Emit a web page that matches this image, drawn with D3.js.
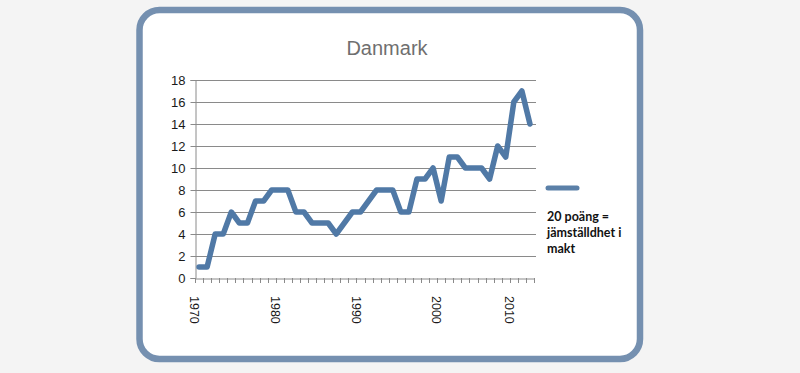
<!DOCTYPE html>
<html>
<head>
<meta charset="utf-8">
<script src="https://cdn.jsdelivr.net/npm/d3@7"></script>
<style>
  html, body { margin: 0; padding: 0; background: #f4f4f4; }
  svg { display: block; }
</style>
</head>
<body>
<svg id="chart" width="800" height="373"></svg>
<script>
// ---- data ----
const years = [1970,1971,1972,1973,1974,1975,1976,1977,1978,1979,
               1980,1981,1982,1983,1984,1985,1986,1987,1988,1989,
               1990,1991,1992,1993,1994,1995,1996,1997,1998,1999,
               2000,2002,2003,2004,2005,2006,2007,2008,2009,2010,
               2011,2012];
const values = [1,1,4,4,6,5,5,7,7,8,
                8,8,6,6,5,5,5,4,5,6,
                6,7,8,8,8,6,6,9,9,10,
                7,11,11,10,10,10,9,12,11,16,
                17,14];
const yTicks = [0,2,4,6,8,10,12,14,16,18];
const xLabelYears = [1970,1980,1990,2000,2010];
const chartTitle = "Danmark";
const noteLines = ["20 poäng =", "jämställdhet i", "makt"];

// ---- drawing ----
const svg = d3.select("#chart");

// frame
svg.append("rect")
  .attr("x", 139.5).attr("y", 10)
  .attr("width", 500.5).attr("height", 349)
  .attr("rx", 20).attr("ry", 20)
  .attr("fill", "#ffffff")
  .attr("stroke", "#7590b0")
  .attr("stroke-width", 6.5);

const plotLeft = 195, plotRight = 534, plotTop = 80, plotBottom = 278;

const x = d3.scaleBand().domain(years).range([plotLeft, plotRight]).paddingInner(0).paddingOuter(0);
const y = d3.scaleLinear().domain([0, 18]).range([plotBottom, plotTop]);

// title
svg.append("text")
  .attr("x", 387).attr("y", 55)
  .attr("text-anchor", "middle")
  .attr("font-family", "Liberation Sans, Arial, sans-serif")
  .attr("font-size", 20)
  .attr("fill", "#6f6f6f")
  .text(chartTitle);

// gridlines
svg.append("g")
  .selectAll("line")
  .data(yTicks.filter(d => d > 0))
  .join("line")
  .attr("x1", plotLeft).attr("x2", plotRight + 2)
  .attr("y1", d => Math.round(y(d)) + 0.5).attr("y2", d => Math.round(y(d)) + 0.5)
  .attr("stroke", "#8a8a8a").attr("stroke-width", 1);

// y axis
const yAxis = svg.append("g")
  .attr("transform", `translate(${plotLeft + 0.5},0)`)
  .call(d3.axisLeft(y).tickValues(yTicks).tickSize(5).tickPadding(5).tickFormat(d3.format("d")));
yAxis.select(".domain").attr("stroke", "#8a8a8a");
yAxis.selectAll(".tick line").attr("stroke", "#8a8a8a");
yAxis.selectAll(".tick text")
  .attr("font-family", "Liberation Sans, Arial, sans-serif")
  .attr("font-size", 13)
  .attr("fill", "#1a1a1a");

// x axis
const xAxis = svg.append("g")
  .attr("transform", `translate(0,${plotBottom + 0.5})`)
  .call(d3.axisBottom(x).tickSize(0).tickFormat(""));
xAxis.select(".domain").attr("stroke", "#8a8a8a");
xAxis.selectAll(".tick").remove();

// category boundary ticks
const bounds = years.map(d => x(d)).concat([x(years[years.length - 1]) + x.bandwidth()]);
svg.append("g")
  .selectAll("line")
  .data(bounds)
  .join("line")
  .attr("x1", d => Math.round(d) + 0.5).attr("x2", d => Math.round(d) + 0.5)
  .attr("y1", plotBottom).attr("y2", plotBottom + 5)
  .attr("stroke", "#8a8a8a").attr("stroke-width", 1);

// x labels (rotated)
svg.append("g")
  .selectAll("text")
  .data(xLabelYears)
  .join("text")
  .attr("transform", d => `translate(${x(d) + x.bandwidth() / 2 - 4.5},296) rotate(90)`)
  .attr("dy", "0.35em")
  .attr("font-family", "Liberation Sans, Arial, sans-serif")
  .attr("font-size", 12.5)
  .attr("fill", "#1a1a1a")
  .text(d => d);

// series line
const line = d3.line()
  .x((d, i) => x(years[i]) + x.bandwidth() / 2)
  .y(d => y(d));

svg.append("path")
  .datum(values)
  .attr("d", line)
  .attr("fill", "none")
  .attr("stroke", "#5079a6")
  .attr("stroke-width", 5.5)
  .attr("stroke-linejoin", "round")
  .attr("stroke-linecap", "round");

// legend sample
svg.append("line")
  .attr("x1", 548).attr("x2", 577)
  .attr("y1", 188).attr("y2", 188)
  .attr("stroke", "#5b80a8")
  .attr("stroke-width", 5)
  .attr("stroke-linecap", "round");

// note
svg.append("g")
  .selectAll("text")
  .data(noteLines)
  .join("text")
  .attr("x", 547)
  .attr("y", (d, i) => 221 + i * 16)
  .attr("font-family", "Lato, Liberation Sans, sans-serif")
  .attr("font-weight", "bold")
  .attr("font-size", 12.5)
  .attr("fill", "#111")
  .text(d => d);
</script>
</body>
</html>
